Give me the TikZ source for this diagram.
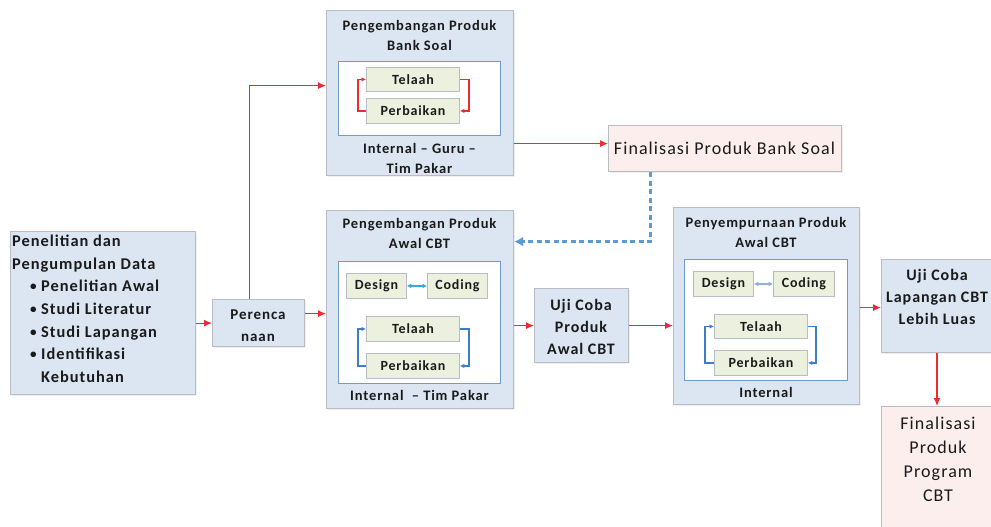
\documentclass[tikz,border=0pt]{standalone}
\usepackage{fontspec}
\setmainfont[LetterSpace=6]{Carlito}
\usetikzlibrary{arrows.meta,shadows}
\definecolor{boxblue}{HTML}{DCE6F2}
\definecolor{boxborder}{HTML}{B9BDC3}
\definecolor{innerborder}{HTML}{6F9BD1}
\definecolor{greenfill}{HTML}{EBF1DE}
\definecolor{pinkfill}{HTML}{FDEEEE}
\definecolor{redline}{HTML}{F02A2F}
\definecolor{loopblue}{HTML}{3C7FC8}
\definecolor{cyanarrow}{HTML}{3AA8E0}
\definecolor{paleblue}{HTML}{8FB0DA}
\definecolor{dashblue}{HTML}{5B9BD5}
\definecolor{txt}{HTML}{1A1A1A}
\newcommand{\bul}{\hspace*{18pt}\makebox[11pt][l]{\raisebox{1pt}{\scalebox{0.8}{\textbullet}}}}
\tikzset{
  outerbox/.style={draw=boxborder, fill=boxblue, line width=1.2pt, inner sep=0pt, anchor=north west,
    drop shadow={shadow xshift=1.5pt, shadow yshift=-1.5pt, fill=black!12}},
  pinkbox/.style={draw=boxborder, fill=pinkfill, line width=1.2pt, inner sep=0pt, anchor=north west,
    drop shadow={shadow xshift=1.5pt, shadow yshift=-1.5pt, fill=black!12}},
  innerbox/.style={draw=innerborder, fill=white, line width=1.2pt, inner sep=0pt, anchor=north west},
  greenbox/.style={draw=boxborder, fill=greenfill, line width=0.9pt, inner sep=0pt, anchor=north west,
    text=txt, font=\bfseries\fontsize{14}{16}\selectfont},
  title/.style={align=center, text=txt, inner sep=0pt, font=\bfseries\fontsize{14.5}{20}\selectfont},
  bodytext/.style={align=center, text=txt, inner sep=0pt, font=\bfseries\fontsize{16}{22}\selectfont},
  regtext/.style={align=center, text=txt, inner sep=0pt, font=\fontsize{18}{24}\selectfont},
  redarrow/.style={draw=redline, line width=1.1pt, -{Latex[length=8pt,width=7pt]}},
  redloop/.style={draw=redline, line width=1.4pt, -{Latex[length=4.5pt,width=4.5pt]}},
  blueloop/.style={draw=loopblue, line width=1.4pt, -{Latex[length=4.5pt,width=4.5pt]}},
  dasharrow/.style={draw=dashblue, line width=2.4pt, dash pattern=on 5pt off 3.5pt,
    -{Latex[length=9pt,width=10pt]}},
}
\begin{document}
\begin{tikzpicture}[x=1pt,y=-1pt]
\useasboundingbox[fill=white] (0,0) rectangle (991,527);

% ---------- Box 1 : Pengembangan Produk Bank Soal
\node[outerbox, minimum width=187pt, minimum height=165pt] (b1) at (326,10) {};
\node[title] (b1t) at (419.5,35) {Pengembangan Produk\\Bank Soal};
\node[innerbox, minimum width=162pt, minimum height=74pt] (b1i) at (338,61) {};
\node[greenbox, minimum width=93pt, minimum height=24pt] (t1) at (366,67) {Telaah};
\node[greenbox, minimum width=93pt, minimum height=25pt] (p1) at (366,98) {Perbaikan};
\node[title] (b1b) at (419.5,158) {Internal -- Guru --\\Tim Pakar};
\draw[redloop] (p1.west) -- ++(-8,0) |- (t1.west);
\draw[redloop] (t1.east) -- ++(9,0) |- (p1.east);

% ---------- Box 2 : Pengembangan Produk Awal CBT
\node[outerbox, minimum width=187pt, minimum height=198pt] (b2) at (326,210) {};
\node[title] (b2t) at (419.5,233) {Pengembangan Produk\\Awal CBT};
\node[innerbox, minimum width=162pt, minimum height=122pt] (b2i) at (338,261) {};
\node[greenbox, minimum width=60pt, minimum height=25pt] (d2) at (346,273) {Design};
\node[greenbox, minimum width=60pt, minimum height=25pt] (c2) at (427,273) {Coding};
\node[greenbox, minimum width=93pt, minimum height=25pt] (t2) at (366,316) {Telaah};
\node[greenbox, minimum width=93pt, minimum height=25pt] (p2) at (366,353) {Perbaikan};
\node[title] (b2b) at (419.5,395) {Internal\ \ -- Tim Pakar};
\draw[draw=cyanarrow, line width=1.6pt, {Latex[length=4.5pt,width=5pt]}-{Latex[length=4.5pt,width=5pt]}] (d2.east) -- (c2.west);
\draw[blueloop] (p2.west) -- ++(-8,0) |- (t2.west);
\draw[blueloop] (t2.east) -- ++(9,0) |- (p2.east);

% ---------- Box 3 : Penyempurnaan Produk Awal CBT
\node[outerbox, minimum width=186pt, minimum height=197pt] (b3) at (673,207) {};
\node[title] (b3t) at (766,232) {Penyempurnaan Produk\\Awal CBT};
\node[innerbox, minimum width=163pt, minimum height=121pt] (b3i) at (684,259) {};
\node[greenbox, minimum width=60pt, minimum height=25pt] (d3) at (693,271) {Design};
\node[greenbox, minimum width=61pt, minimum height=25pt] (c3) at (773,271) {Coding};
\node[greenbox, minimum width=93pt, minimum height=24pt] (t3) at (714,314) {Telaah};
\node[greenbox, minimum width=93pt, minimum height=25pt] (p3) at (714,350) {Perbaikan};
\node[title] (b3b) at (766,392) {Internal};
\draw[draw=paleblue, line width=1.6pt, {Latex[length=4.5pt,width=5pt]}-{Latex[length=4.5pt,width=5pt]}] (d3.east) -- (c3.west);
\draw[blueloop] (p3.west) -- ++(-9,0) |- (t3.west);
\draw[blueloop] (t3.east) -- ++(8,0) |- (p3.east);

% ---------- Left box
\node[outerbox, minimum width=185pt, minimum height=163pt] (lb) at (10,231) {};
\node[anchor=north west, align=left, inner sep=0pt, text=txt,
      font=\bfseries\fontsize{16.4}{22.6}\selectfont] (lbt) at (12,235)
 {Penelitian dan\\
  Pengumpulan Data\\
  \bul Penelitian Awal\\
  \bul Studi Literatur\\
  \bul Studi Lapangan\\
  \bul Identifikasi\\
  \hspace*{29pt}Kebutuhan};

% ---------- Perencanaan
\node[outerbox, minimum width=92pt, minimum height=47pt] (pe) at (212,299) {};
\node[bodytext, font=\bfseries\fontsize{15}{22}\selectfont] (pet) at (258,326) {Perenca\\naan};

% ---------- Finalisasi Produk Bank Soal
\node[pinkbox, minimum width=233pt, minimum height=46pt] (fb) at (608,125) {};
\node[regtext] (fbt) at (724.5,148) {Finalisasi Produk Bank Soal};

% ---------- Uji Coba Produk Awal CBT
\node[outerbox, minimum width=94pt, minimum height=74pt] (u1) at (534,288) {};
\node[bodytext] (u1t) at (581,327) {Uji Coba\\Produk\\Awal CBT};

% ---------- Uji Coba Lapangan CBT Lebih Luas
\node[outerbox, minimum width=116pt, minimum height=93pt] (u2) at (881,259) {};
\node[bodytext] (u2t) at (937,297) {Uji Coba\\Lapangan CBT\\Lebih Luas};

% ---------- Finalisasi Produk Program CBT
\node[pinkbox, minimum width=116pt, minimum height=135pt] (f2) at (881,406) {};
\node[regtext] (f2t) at (938,459) {Finalisasi\\Produk\\Program\\CBT};

% ---------- Connectors
\draw[redarrow] (lb.east |- pe) -- (pe.west);
\coordinate (peo) at ([yshift=9.5pt]pe.east);
\draw[redarrow] (peo) -- (b2.west |- peo);
\draw[redarrow] ([xshift=-9pt]pe.north) |- ([yshift=7.5pt]b1.west);
\coordinate (fbin) at ([yshift=5pt]fb.west);
\draw[redarrow] (b1.east |- fbin) -- (fbin);
\draw[dasharrow] ([xshift=-74.5pt]fb.south) |- ([yshift=68pt]b2.east);
\draw[redarrow] (b2.east |- u1) -- (u1.west);
\draw[redarrow] (u1.east) -- (b3.west |- u1);
\coordinate (u2in) at ([yshift=-1.5pt]u2.west);
\draw[redarrow] (b3.east |- u2in) -- (u2in);
\draw[redarrow] (u2t |- u2.south) -- (u2t |- f2.north);
\end{tikzpicture}
\end{document}
